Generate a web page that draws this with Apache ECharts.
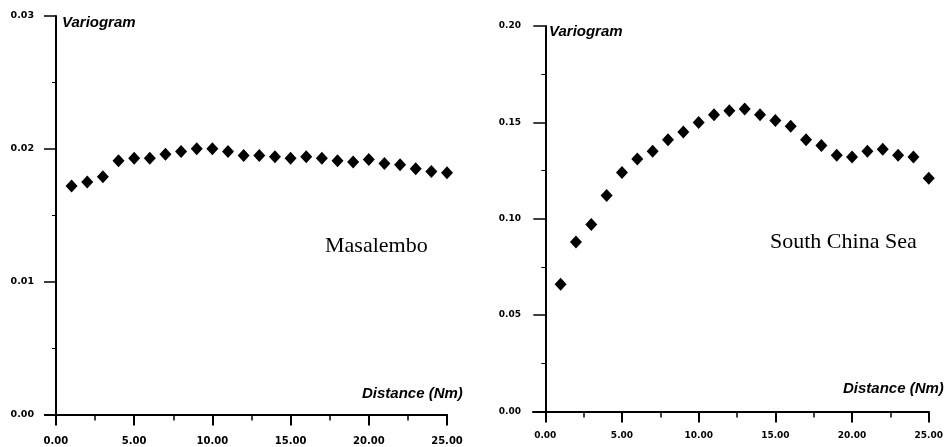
<!DOCTYPE html>
<html>
<head>
<meta charset="utf-8">
<script src="https://cdn.jsdelivr.net/npm/echarts@6/dist/echarts.min.js"></script>
<style>
  html, body { margin: 0; padding: 0; background: #fff; }
  #chart { width: 946px; height: 447px; }
</style>
</head>
<body>
<div id="chart"></div>
<script>
// Lag distances (Nm) shared by both experimental variograms
const distances = [1, 2, 3, 4, 5, 6, 7, 8, 9, 10, 11, 12, 13, 14, 15, 16, 17, 18, 19, 20, 21, 22, 23, 24, 25];

// Semivariance values per lag
const masalembo = [0.0172, 0.0175, 0.0179, 0.0191, 0.0193, 0.0193, 0.0196, 0.0198, 0.0200, 0.0200,
                   0.0198, 0.0195, 0.0195, 0.0194, 0.0193, 0.0194, 0.0193, 0.0191, 0.0190, 0.0192,
                   0.0189, 0.0188, 0.0185, 0.0183, 0.0182];
const southChinaSea = [0.066, 0.088, 0.097, 0.112, 0.124, 0.131, 0.135, 0.141, 0.145, 0.150,
                       0.154, 0.156, 0.157, 0.154, 0.151, 0.148, 0.141, 0.138, 0.133, 0.132,
                       0.135, 0.136, 0.133, 0.132, 0.121];

// Tick positions
const xMajorTicks = [0, 5, 10, 15, 20, 25];
const xMinorTicks = [2.5, 7.5, 12.5, 17.5, 22.5];

const panelNames = ['Masalembo', 'South China Sea'];

const AXIS_COLOR = '#000';
const tickFont = { fontFamily: 'DejaVu Sans', fontWeight: 'bold', color: '#000' };

function pairs(ys) { return distances.map((d, i) => [d, ys[i]]); }

function xAxes(grid, xMin, labelSize, labelMargin) {
  return [
    {
      type: 'value', gridIndex: grid, min: xMin, max: 25, position: 'bottom',
      axisLine: { show: true, onZero: true, lineStyle: { color: AXIS_COLOR, width: 2 } },
      axisTick: { show: true, customValues: xMajorTicks, length: 11, lineStyle: { color: AXIS_COLOR, width: 2 } },
      axisLabel: { show: true, customValues: xMajorTicks, margin: labelMargin,
                   formatter: v => v.toFixed(2), fontSize: labelSize, ...tickFont },
      splitLine: { show: false }
    },
    {
      type: 'value', gridIndex: grid, min: xMin, max: 25, position: 'bottom',
      axisLine: { show: false },
      axisTick: { show: true, customValues: xMinorTicks, length: 6, lineStyle: { color: AXIS_COLOR, width: 1.5 } },
      axisLabel: { show: false },
      splitLine: { show: false }
    }
  ];
}

function yAxis(grid, max, interval, labelSize, labelMargin) {
  return {
    type: 'value', gridIndex: grid, min: 0, max: max, interval: interval, position: 'left',
    axisLine: { show: true, onZero: true, onZeroAxisIndex: grid * 2, lineStyle: { color: AXIS_COLOR, width: 2 } },
    axisTick: { show: true, length: 12, lineStyle: { color: AXIS_COLOR, width: 1.5 } },
    minorTick: { show: true, splitNumber: 2, length: 4, lineStyle: { color: AXIS_COLOR, width: 1 } },
    axisLabel: { show: true, margin: labelMargin, formatter: v => v.toFixed(2), fontSize: labelSize, ...tickFont },
    splitLine: { show: false },
    minorSplitLine: { show: false }
  };
}

const axisTitleStyle = { fontFamily: 'Liberation Sans', fontStyle: 'italic', fontWeight: 'bold', fontSize: 15, color: '#000' };
const nameStyle = { fontFamily: 'Liberation Serif', fontWeight: 'normal', fontSize: 22, color: '#000' };

const chart = echarts.init(document.getElementById('chart'), null, { renderer: 'canvas' });

chart.setOption({
  backgroundColor: '#fff',
  animation: false,
  title: [
    { text: 'Variogram', left: 62, top: 15, padding: 0, textStyle: axisTitleStyle },
    { text: 'Distance (Nm)', left: 362, top: 386, padding: 0, textStyle: axisTitleStyle },
    { text: panelNames[0], left: 325, top: 235, padding: 0, textStyle: nameStyle },
    { text: 'Variogram', left: 549, top: 24, padding: 0, textStyle: axisTitleStyle },
    { text: 'Distance (Nm)', left: 843, top: 381, padding: 0, textStyle: axisTitleStyle },
    { text: panelNames[1], left: 770, top: 231, padding: 0, textStyle: nameStyle }
  ],
  grid: [
    { left: 45, top: 16, width: 402, height: 398.5 },
    { left: 533, top: 26, width: 396, height: 385.5 }
  ],
  xAxis: [
    ...xAxes(0, -0.7, 10, 22),
    ...xAxes(1, -0.8, 9, 20)
  ],
  yAxis: [
    yAxis(0, 0.03, 0.01, 9.5, 11),
    yAxis(1, 0.20, 0.05, 9, 12)
  ],
  series: [
    {
      name: panelNames[0], type: 'scatter', xAxisIndex: 0, yAxisIndex: 0,
      symbol: 'diamond', symbolSize: [12, 13],
      itemStyle: { color: '#000', opacity: 1 },
      data: pairs(masalembo)
    },
    {
      name: panelNames[1], type: 'scatter', xAxisIndex: 2, yAxisIndex: 1,
      symbol: 'diamond', symbolSize: [12, 13],
      itemStyle: { color: '#000', opacity: 1 },
      data: pairs(southChinaSea)
    }
  ]
});
</script>
</body>
</html>
